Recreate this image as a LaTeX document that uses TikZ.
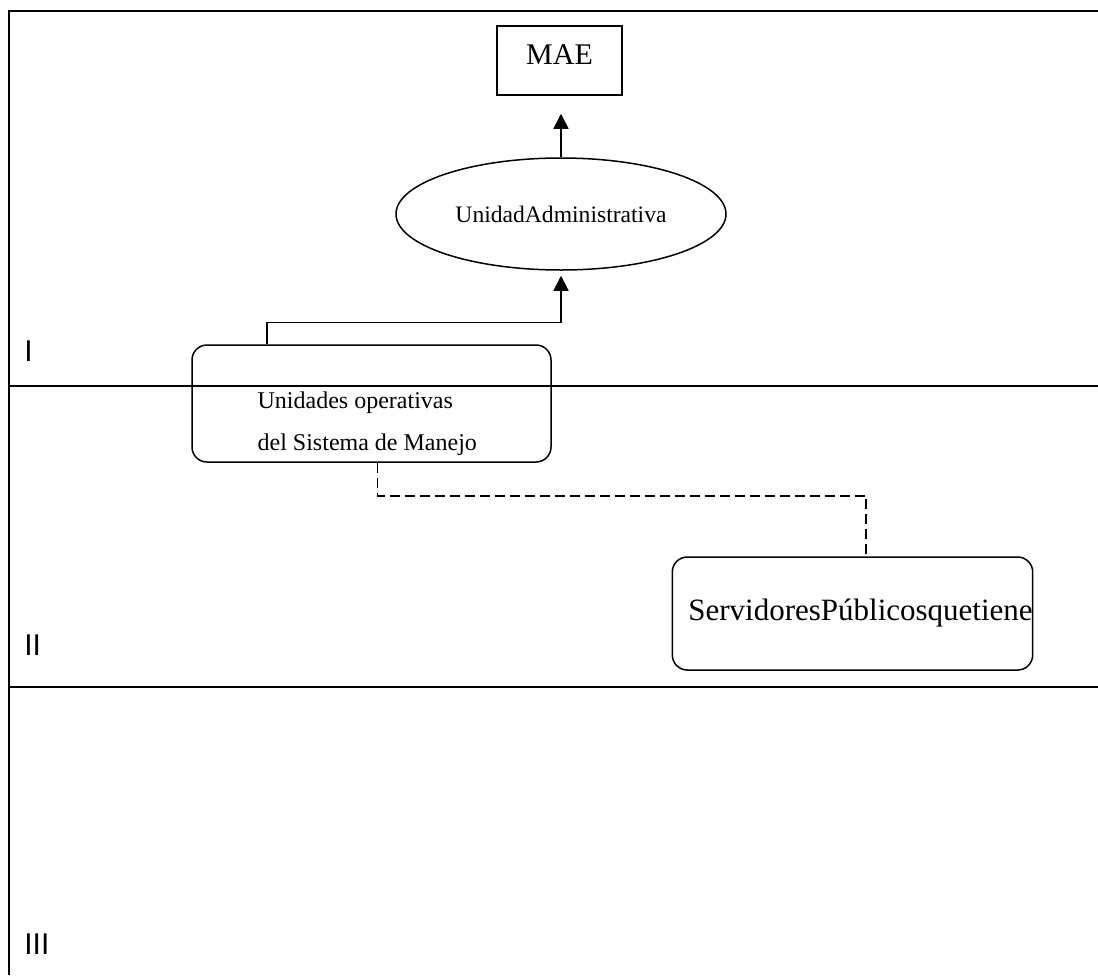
\documentclass[tikz,border=0pt]{standalone}
\usepackage{fontspec}
\setmainfont{Liberation Serif}
\setsansfont{Liberation Sans}
\usetikzlibrary{shapes.geometric,arrows.meta}
\begin{document}
\begin{tikzpicture}[x=0.5pt,y=-0.5pt,
  frame/.style={line width=1pt},
  box/.style={draw,line width=0.75pt,inner sep=0pt},
  roundbox/.style={box,rounded corners=7.5pt},
  link/.style={line width=0.75pt,-{Triangle[width=7.5pt,length=7.5pt]}},
  dashlink/.style={line width=0.75pt,dash pattern=on 5pt off 2.5pt},
  lane/.style={font=\sffamily\fontsize{15}{18}\selectfont,inner sep=0pt,anchor=base west}]
\useasboundingbox (0,0) rectangle (1098,975);
\draw[frame] (1098,11) -- (9,11) -- (9,975);
\draw[frame] (9,386) -- (1098,386);
\draw[frame] (9,686.5) -- (1098,686.5);
\node (laneI) at (24,361) [lane] {I};
\node (laneII) at (24,655) [lane] {II};
\node (laneIII) at (24,954) [lane] {III};
\node (mae) at (559.5,60.5) [box,minimum width=62.5pt,minimum height=34.5pt,text depth=5.5pt,font=\fontsize{15}{17}\selectfont] {MAE};
\node (adm) at (561,214) [ellipse,box,minimum width=165pt,minimum height=56pt,font=\fontsize{11.8}{14}\selectfont] {UnidadAdministrativa};
\node (ops) at (371.5,403.5) [roundbox,minimum width=179.5pt,minimum height=58.5pt,
  label={[anchor=south west,align=left,inner sep=0pt,xshift=33pt,yshift=3.5pt,font=\fontsize{12}{21}\selectfont]south west:Unidades operativas\\del Sistema de Manejo}] {};
\node (serv) at (852.5,613.5) [roundbox,minimum width=178.5pt,minimum height=56.5pt,font=\fontsize{15.5}{18}\selectfont] {\hspace*{8pt}ServidoresPúblicosquetiene};
\draw[link,shorten >=9pt] (adm.north) -- (adm.north |- mae.south);
\draw[link,shorten >=2.5pt] ([xshift=-52.25pt]ops.north) -- ++(0,-22) -| (adm.south);
\draw[dashlink] ([xshift=3pt]ops.south) -- ++(0,33) -| ([xshift=6.75pt]serv.north);
\end{tikzpicture}
\end{document}
